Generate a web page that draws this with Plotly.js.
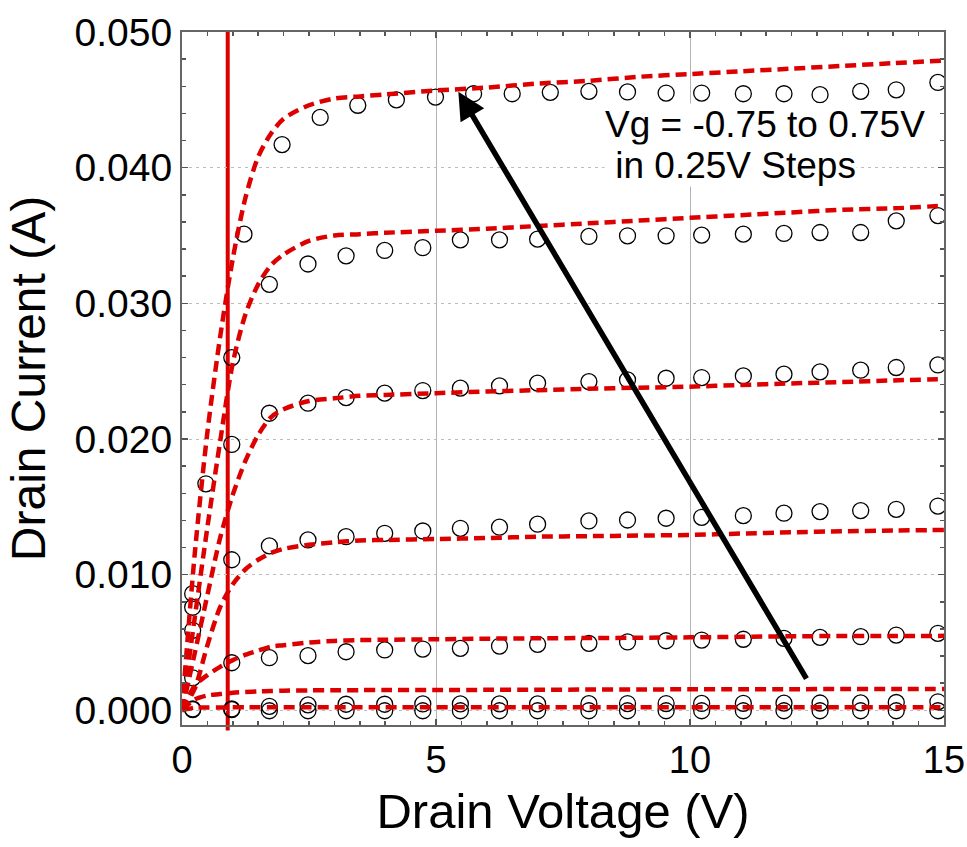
<!DOCTYPE html>
<html><head><meta charset="utf-8">
<script src="https://cdn.plot.ly/plotly-3.0.1.min.js"></script>
<style>html,body{margin:0;padding:0;background:#fff;}#chart{width:967px;height:847px;}</style>
</head><body><div id="chart"></div>
<script>
// ---- model curves (red dashed) ----
const modelV = [0, 0.25, 0.5, 0.75, 1.0, 1.25, 1.5, 1.75, 2, 2.5, 3, 3.5, 4, 5, 6, 7, 8, 9, 10, 11, 12, 13, 14, 15];
const modelI_p075 = [0, 0.0115, 0.0205, 0.0275, 0.0333, 0.0378, 0.0408, 0.0425, 0.0436, 0.0446, 0.0451, 0.04525, 0.0454, 0.04569, 0.0459, 0.0462, 0.0464, 0.0467, 0.0469, 0.0471, 0.0473, 0.0475, 0.0477, 0.0479];
const modelI_p050 = [0, 0.0068, 0.0135, 0.0198, 0.0256, 0.0292, 0.0314, 0.0328, 0.0336, 0.0346, 0.0350, 0.0351, 0.0352, 0.03535, 0.0355, 0.0357, 0.0359, 0.0361, 0.0363, 0.0365, 0.0367, 0.0369, 0.0370, 0.0372];
const modelI_p025 = [0, 0.0042, 0.0085, 0.0127, 0.0159, 0.0184, 0.0203, 0.0216, 0.0222, 0.0228, 0.0230, 0.02318, 0.02325, 0.02338, 0.0235, 0.0236, 0.0237, 0.02378, 0.02386, 0.02398, 0.0241, 0.0242, 0.02432, 0.02442];
const modelI_0 = [0, 0.0016, 0.0048, 0.0076, 0.0093, 0.0104, 0.0111, 0.0116, 0.0119, 0.0122, 0.01238, 0.01252, 0.01256, 0.01263, 0.0127, 0.0128, 0.01284, 0.01288, 0.01293, 0.01303, 0.01312, 0.0132, 0.01325, 0.0133];
const modelI_m025 = [0, 0.0018, 0.0026, 0.0032, 0.0037, 0.0041, 0.0044, 0.0047, 0.0048, 0.0050, 0.00512, 0.00518, 0.0052, 0.00524, 0.00528, 0.00531, 0.00533, 0.00535, 0.00538, 0.00542, 0.00546, 0.00548, 0.00548, 0.00549];
const modelI_m050 = [0, 0.0008, 0.0011, 0.0012, 0.0013, 0.00135, 0.0014, 0.00142, 0.00145, 0.00147, 0.00148, 0.00149, 0.0015, 0.0015, 0.00151, 0.00152, 0.00153, 0.00154, 0.00155, 0.00156, 0.00156, 0.00157, 0.00157, 0.00158];
const modelI_m075 = [0, 0.0002, 0.00021, 0.00021, 0.00022, 0.00022, 0.00022, 0.00022, 0.00022, 0.00022, 0.00022, 0.00022, 0.00022, 0.00022, 0.00022, 0.00022, 0.00022, 0.00022, 0.00022, 0.00022, 0.00022, 0.00022, 0.00022, 0.00022];

// ---- measured data (open circles) ----
const measV_p075 = [0.47, 1.22, 1.97, 2.72, 3.46, 4.22, 4.99, 5.74, 6.50, 7.25, 8.01, 8.77, 9.53, 10.23, 11.05, 11.85, 12.56, 13.36, 14.06, 14.88];
const measI_p075 = [0.0167, 0.0351, 0.0417, 0.0437, 0.0446, 0.0450, 0.0452, 0.04545, 0.04545, 0.04555, 0.04562, 0.04558, 0.0455, 0.0455, 0.04545, 0.04545, 0.04538, 0.04562, 0.04574, 0.04628];
const measV = [0.21, 0.98, 1.72, 2.48, 3.23, 3.99, 4.74, 5.48, 6.25, 7.0, 8.01, 8.77, 9.53, 10.23, 11.05, 11.85, 12.56, 13.36, 14.06, 14.88];
const measI_p050 = [0.0086, 0.0260, 0.0314, 0.0329, 0.0335, 0.0339, 0.0341, 0.03468, 0.03468, 0.03473, 0.03493, 0.03498, 0.03498, 0.03503, 0.0351, 0.03515, 0.03522, 0.03522, 0.03608, 0.03647];
const measI_p025 = [0.0076, 0.0196, 0.0219, 0.02264, 0.02305, 0.02338, 0.02357, 0.02375, 0.02392, 0.02412, 0.02423, 0.02436, 0.02448, 0.02453, 0.02465, 0.02478, 0.02495, 0.02507, 0.02527, 0.02546];
const measI_0 = [0.0059, 0.0111, 0.01212, 0.01256, 0.0128, 0.01305, 0.01322, 0.01342, 0.0135, 0.01372, 0.01396, 0.01403, 0.01416, 0.01423, 0.01435, 0.01453, 0.01465, 0.01472, 0.01482, 0.01506];
const measI_m025 = [0.0024, 0.00351, 0.00388, 0.00403, 0.00432, 0.00445, 0.00452, 0.00457, 0.00474, 0.00487, 0.00494, 0.00504, 0.00513, 0.00518, 0.00524, 0.00531, 0.00538, 0.00543, 0.00555, 0.00568];
const measI_m050 = [0.0001, 0.0001, 0.0003, 0.0004, 0.00045, 0.00045, 0.00047, 0.00047, 0.00048, 0.00048, 0.00049, 0.0005, 0.0005, 0.00051, 0.00052, 0.00053, 0.00054, 0.00055, 0.00058, 0.00063];
const measI_m075 = [0.00005, 0.00005, -0.00003, -0.00003, -0.00003, -0.00003, -0.00003, -0.00003, -0.00003, -0.00003, -0.00003, -0.00003, -0.00003, -0.00003, -0.00003, -0.00003, -0.00003, -0.00003, -0.00003, -0.00003];

// ---- ticks / labels ----
const xTickVals = [0, 5, 10, 15];
const xTickText = ['0', '5', '10', '15'];
const yTickVals = [0, 0.01, 0.02, 0.03, 0.04, 0.05];
const yTickText = ['0.000', '0.010', '0.020', '0.030', '0.040', '0.050'];
const xTitle = 'Drain Voltage (V)';
const yTitle = 'Drain Current (A)';
const noteLine1 = 'Vg = -0.75 to 0.75V';
const noteLine2 = ' in 0.25V Steps';
const markerLineV = 0.9;
const arrowHead = [5.44, 0.0456];
const arrowTail = [12.31, 0.00223];

const RED = '#dd0000';
const FONT = 'Liberation Sans, Arial, sans-serif';

const models = [modelI_p075, modelI_p050, modelI_p025, modelI_0, modelI_m025, modelI_m050, modelI_m075];
const meas = [
  [measV_p075, measI_p075], [measV, measI_p050], [measV, measI_p025], [measV, measI_0],
  [measV, measI_m025], [measV, measI_m050], [measV, measI_m075]
];

const traces = [];
meas.forEach(([xv, yv]) => traces.push({
  x: xv, y: yv, type: 'scatter', mode: 'markers', showlegend: false, hoverinfo: 'skip',
  marker: {symbol: 'circle-open', size: 16, color: '#000', line: {width: 1.3, color: '#000'}}
}));
models.forEach(yv => traces.push({
  x: modelV, y: yv, type: 'scatter', mode: 'lines', showlegend: false, hoverinfo: 'skip',
  line: {color: RED, width: 4.5, dash: '11px,6px', shape: 'spline', smoothing: 0.8}
}));

const layout = {
  width: 967, height: 847,
  margin: {l: 182, r: 23, t: 32, b: 122},
  paper_bgcolor: '#fff', plot_bgcolor: '#fff',
  font: {family: FONT, color: '#000'},
  xaxis: {
    range: [0, 15], tickmode: 'array', tickvals: xTickVals, ticktext: xTickText,
    tickfont: {size: 38, family: FONT, color: '#000'},
    ticks: 'inside', ticklen: 6, tickcolor: '#555', tickwidth: 1.5,
    minor: {dtick: 0.5, ticks: 'inside', ticklen: 4, tickcolor: '#555', showgrid: false},
    showline: true, linecolor: '#666', linewidth: 2, mirror: 'allticks',
    showgrid: true, gridcolor: '#b4b4b4', gridwidth: 1, zeroline: false,
    ticklabelstandoff: 0,
    title: {text: xTitle, font: {size: 49, family: FONT, color: '#000'}, standoff: 14}
  },
  yaxis: {
    range: [-0.00108, 0.05], tickmode: 'array', tickvals: yTickVals, ticktext: yTickText,
    tickfont: {size: 39, family: FONT, color: '#000'},
    ticks: 'inside', ticklen: 6, tickcolor: '#555', tickwidth: 1.5,
    minor: {dtick: 0.002, ticks: 'inside', ticklen: 4, tickcolor: '#555', showgrid: false},
    showline: true, linecolor: '#666', linewidth: 2, mirror: 'allticks',
    showgrid: true, gridcolor: '#bdbdbd', gridwidth: 1, griddash: '3px,4px', zeroline: false,
    title: {text: yTitle, font: {size: 48, family: FONT, color: '#000'}, standoff: 14}
  },
  shapes: [{
    type: 'line', xref: 'x', yref: 'paper', x0: markerLineV, x1: markerLineV, y0: -0.008, y1: 1,
    line: {color: RED, width: 4}, layer: 'below'
  }],
  annotations: [
    {x: arrowHead[0], y: arrowHead[1], xref: 'x', yref: 'y', ax: arrowTail[0], ay: arrowTail[1],
     axref: 'x', ayref: 'y', text: '', showarrow: true, arrowhead: 2, arrowsize: 1,
     arrowwidth: 5.5, arrowcolor: '#000', standoff: 0, startstandoff: 0},
    {x: 8.31, y: 0.04315, xref: 'x', yref: 'y', xanchor: 'left', yanchor: 'middle', text: noteLine1,
     showarrow: false, bgcolor: '#fff', borderpad: 0, font: {size: 37, family: FONT, color: '#000'}},
    {x: 8.31, y: 0.04015, xref: 'x', yref: 'y', xanchor: 'left', yanchor: 'middle', text: noteLine2,
     showarrow: false, bgcolor: '#fff', borderpad: 0, font: {size: 37, family: FONT, color: '#000'}}
  ]
};

Plotly.newPlot('chart', traces, layout, {displayModeBar: false, staticPlot: true});
</script>
</body></html>
